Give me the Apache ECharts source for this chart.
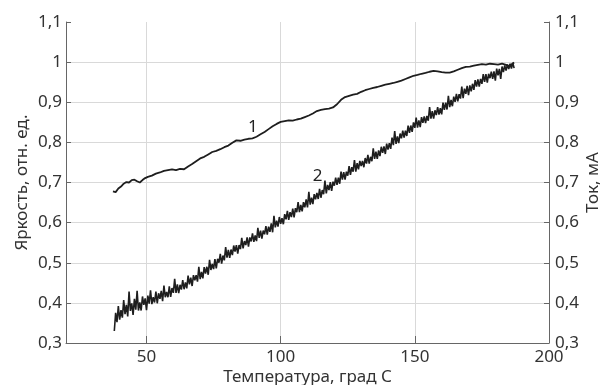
<!DOCTYPE html>
<html><head><meta charset="utf-8">
<script src="https://cdn.jsdelivr.net/npm/echarts@6/dist/echarts.min.js"></script>
<style>html,body{margin:0;padding:0;background:#fff}#c{width:604px;height:385px}</style>
</head><body><div id="c"></div>
<script>
// Curve 1: brightness (left axis)
const temps1 = [37.5,38.5,39.5,40.5,41.5,42.5,43.5,44.5,45.5,46.5,47.5,48.5,49.5,50.5,52,53.5,55,56.5,58,59.5,61,62.5,64,65.5,67,68.5,70,71.5,73,74.5,76,77.5,79,80.5,82,83.5,85,86.5,88,89.5,91,92.5,94,95.5,97,98.5,100,101.5,103,104.5,106,107.5,109,110.5,112,113.5,115,116.5,118,119.5,121,122.5,124,125.5,127,128.5,130,131.5,133,134.5,136,137.5,139,140.5,142,143.5,145,146.5,148,149.5,151,152.5,154,155.5,157,158.5,160,161.5,163,164.5,166,167.5,169,170.5,172,173.5,175,176.5,178,179.5,181,182.5,184,185,186,187];
const bright = [0.678,0.676,0.685,0.690,0.697,0.701,0.700,0.706,0.707,0.703,0.700,0.706,0.711,0.714,0.717,0.722,0.725,0.729,0.731,0.733,0.731,0.734,0.733,0.740,0.746,0.753,0.760,0.764,0.770,0.776,0.779,0.783,0.788,0.792,0.799,0.805,0.804,0.807,0.809,0.810,0.814,0.820,0.826,0.833,0.840,0.846,0.851,0.853,0.855,0.854,0.857,0.859,0.863,0.867,0.872,0.878,0.881,0.883,0.884,0.887,0.895,0.906,0.913,0.916,0.919,0.921,0.926,0.930,0.933,0.936,0.938,0.941,0.944,0.946,0.948,0.951,0.954,0.958,0.962,0.966,0.968,0.971,0.973,0.976,0.978,0.977,0.975,0.974,0.974,0.977,0.981,0.985,0.988,0.989,0.991,0.993,0.995,0.994,0.996,0.995,0.994,0.996,0.993,0.990,0.994,0.999];
// Curve 2: current (right axis)
const temps2 = [38,38.5,39,39.5,40,40.5,41,41.5,42,42.5,43,43.5,44,44.5,45,45.5,46,46.5,47,47.5,48,48.5,49,49.5,50,50.5,51,51.5,52,52.5,53,53.5,54,54.5,55,55.5,56,56.5,57,57.5,58,58.5,59,59.5,60,60.5,61,61.5,62,62.5,63,63.5,64,64.5,65,65.5,66,66.5,67,67.5,68,68.5,69,69.5,70,70.5,71,71.5,72,72.5,73,73.5,74,74.5,75,75.5,76,76.5,77,77.5,78,78.5,79,79.5,80,80.5,81,81.5,82,82.5,83,83.5,84,84.5,85,85.5,86,86.5,87,87.5,88,88.5,89,89.5,90,90.5,91,91.5,92,92.5,93,93.5,94,94.5,95,95.5,96,96.5,97,97.5,98,98.5,99,99.5,100,100.5,101,101.5,102,102.5,103,103.5,104,104.5,105,105.5,106,106.5,107,107.5,108,108.5,109,109.5,110,110.5,111,111.5,112,112.5,113,113.5,114,114.5,115,115.5,116,116.5,117,117.5,118,118.5,119,119.5,120,120.5,121,121.5,122,122.5,123,123.5,124,124.5,125,125.5,126,126.5,127,127.5,128,128.5,129,129.5,130,130.5,131,131.5,132,132.5,133,133.5,134,134.5,135,135.5,136,136.5,137,137.5,138,138.5,139,139.5,140,140.5,141,141.5,142,142.5,143,143.5,144,144.5,145,145.5,146,146.5,147,147.5,148,148.5,149,149.5,150,150.5,151,151.5,152,152.5,153,153.5,154,154.5,155,155.5,156,156.5,157,157.5,158,158.5,159,159.5,160,160.5,161,161.5,162,162.5,163,163.5,164,164.5,165,165.5,166,166.5,167,167.5,168,168.5,169,169.5,170,170.5,171,171.5,172,172.5,173,173.5,174,174.5,175,175.5,176,176.5,177,177.5,178,178.5,179,179.5,180,180.5,181,181.5,182,182.5,183,183.5,184,184.5,185,185.5,186,186.5,187];
const current = [0.330,0.375,0.352,0.392,0.358,0.382,0.363,0.407,0.372,0.395,0.366,0.428,0.380,0.399,0.370,0.410,0.383,0.430,0.381,0.401,0.381,0.416,0.395,0.411,0.382,0.418,0.398,0.431,0.397,0.414,0.401,0.428,0.399,0.424,0.410,0.430,0.404,0.443,0.414,0.427,0.414,0.441,0.415,0.437,0.425,0.460,0.425,0.446,0.424,0.445,0.433,0.457,0.434,0.451,0.436,0.468,0.446,0.463,0.442,0.469,0.456,0.469,0.453,0.490,0.459,0.477,0.461,0.489,0.473,0.490,0.470,0.507,0.482,0.497,0.484,0.509,0.486,0.510,0.500,0.522,0.498,0.518,0.506,0.539,0.513,0.532,0.512,0.533,0.519,0.543,0.528,0.544,0.523,0.544,0.534,0.562,0.536,0.554,0.544,0.563,0.540,0.563,0.553,0.573,0.552,0.568,0.554,0.587,0.562,0.580,0.560,0.580,0.571,0.591,0.570,0.590,0.577,0.598,0.576,0.617,0.588,0.605,0.590,0.614,0.597,0.611,0.596,0.621,0.608,0.629,0.607,0.626,0.614,0.635,0.613,0.636,0.626,0.651,0.626,0.644,0.628,0.651,0.638,0.658,0.638,0.677,0.645,0.662,0.646,0.671,0.658,0.674,0.659,0.684,0.662,0.681,0.671,0.705,0.673,0.694,0.681,0.701,0.679,0.702,0.692,0.712,0.694,0.712,0.697,0.727,0.707,0.726,0.707,0.727,0.717,0.741,0.719,0.738,0.727,0.756,0.727,0.748,0.733,0.754,0.741,0.754,0.738,0.761,0.747,0.769,0.747,0.764,0.753,0.785,0.759,0.777,0.759,0.780,0.766,0.789,0.774,0.790,0.771,0.797,0.782,0.798,0.784,0.812,0.793,0.828,0.796,0.815,0.798,0.822,0.810,0.829,0.812,0.829,0.816,0.842,0.824,0.842,0.826,0.850,0.836,0.862,0.837,0.855,0.838,0.863,0.849,0.865,0.848,0.866,0.854,0.888,0.859,0.878,0.859,0.880,0.868,0.888,0.869,0.885,0.870,0.899,0.881,0.899,0.882,0.916,0.888,0.906,0.890,0.914,0.901,0.921,0.902,0.920,0.909,0.939,0.910,0.934,0.921,0.941,0.918,0.942,0.927,0.946,0.931,0.955,0.939,0.957,0.939,0.958,0.946,0.970,0.951,0.970,0.949,0.971,0.960,0.976,0.958,0.977,0.954,0.984,0.967,0.983,0.958,0.989,0.975,0.992,0.979,0.994,0.983,0.996,0.984,0.998,0.985];
// Curve labels
const curveLabels = ['1','2'];
const labelPos = [[89.6,0.837],[113.8,0.715]];
const xTicks = [50,100,150,200];

const FONT = 'Noto Sans';
const FS = 17;
const fmt = v => String(Math.round(v*10)/10).replace('.', ',');
const chart = echarts.init(document.getElementById('c'), null, {renderer:'canvas'});
const yCommon = {
  type:'value', min:0.3, max:1.1, interval:0.1,
  nameLocation:'middle', nameRotate:90, nameMoveOverlap:false,
  nameTextStyle:{fontFamily:FONT, fontSize:FS, color:'#333'},
  axisLine:{show:true, lineStyle:{color:'#666', width:1}},
  axisTick:{show:true, inside:true, length:5, lineStyle:{color:'#666'}},
};
chart.setOption({
  animation:false,
  grid:{left:66, right:55, top:22, bottom:42, containLabel:false, outerBoundsMode:'none'},
  xAxis:{
    type:'value', min:20, max:200,
    name:'Температура, град С', nameLocation:'middle', nameGap:26, nameMoveOverlap:false,
    nameTextStyle:{fontFamily:FONT, fontSize:FS, color:'#333'},
    axisLine:{show:true, lineStyle:{color:'#666', width:1}},
    axisTick:{show:true, inside:true, length:7, customValues:xTicks, lineStyle:{color:'#666'}},
    axisLabel:{fontFamily:FONT, fontSize:FS, color:'#333', margin:6, customValues:xTicks},
    splitLine:{show:true, lineStyle:{color:'#d9d9d9', width:1}}
  },
  yAxis:[
    Object.assign({}, yCommon, {position:'left', name:'Яркость, отн. ед.', nameGap:35,
      axisLabel:{fontFamily:FONT, fontSize:FS, color:'#333', margin:4, formatter:fmt},
      splitLine:{show:true, showMaxLine:false, lineStyle:{color:'#d9d9d9', width:1}}}),
    Object.assign({}, yCommon, {position:'right', name:'Ток, мА', nameGap:36,
      axisLabel:{fontFamily:FONT, fontSize:FS, color:'#333', margin:6, formatter:fmt},
      splitLine:{show:false}})
  ],
  series:[
    {type:'line', yAxisIndex:0, showSymbol:false, symbol:'none',
     data:temps1.map((t,i)=>[t,bright[i]]), lineStyle:{color:'#1e1e1e', width:1.8},
     markPoint:{symbol:'circle', symbolSize:1, itemStyle:{color:'rgba(0,0,0,0)'},
       label:{show:true, position:'inside', fontFamily:FONT, fontSize:FS, color:'#222', formatter:p=>p.name},
       data:labelPos.map((p,i)=>({name:curveLabels[i], coord:p}))}},
    {type:'line', yAxisIndex:1, showSymbol:false, symbol:'none',
     data:temps2.map((t,i)=>[t,current[i]]), lineStyle:{color:'#1e1e1e', width:1.6}}
  ]
});
</script></body></html>
